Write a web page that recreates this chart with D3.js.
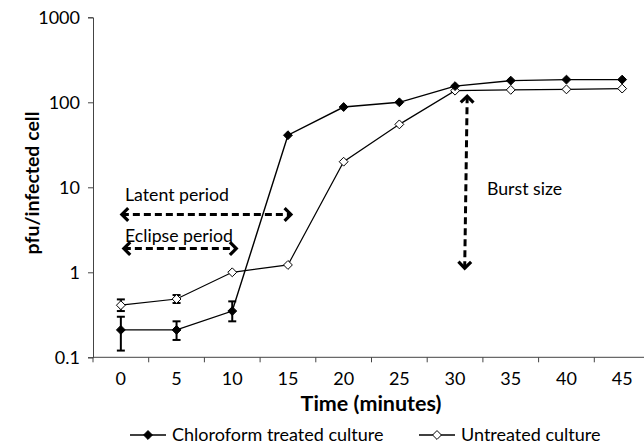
<!DOCTYPE html>
<html><head><meta charset="utf-8">
<script src="https://cdn.jsdelivr.net/npm/d3@7/dist/d3.min.js"></script>
<style>body{margin:0;background:#fff}svg{display:block}text{font-family:Lato,"Open Sans",sans-serif}</style>
</head><body>
<svg id="c" width="644" height="446"></svg>
<script>
const times = ["0","5","10","15","20","25","30","35","40","45"];
const chloroform = [0.21,0.21,0.35,41,88,100,155,180,185,185];
const chloroErrLo = [0.12,0.16,0.265,null,null,null,null,null,null,null];
const chloroErrHi = [0.30,0.265,0.455,null,null,null,null,null,null,null];
const untreated = [0.41,0.485,1.0,1.22,20,55,137,140,142,145];
const untreatedErrLo = [0.35,0.435,null,null,null,null,null,null,null,null];
const untreatedErrHi = [0.48,0.54,null,null,null,null,null,null,null,null];
const yTicks = [0.1,1,10,100,1000];
const seriesNames = ["Chloroform treated culture","Untreated culture"];

const svg = d3.select("#c");
const x = d3.scaleBand().domain(times).range([93,650]).paddingInner(0).paddingOuter(0);
const y = d3.scaleLog().domain([0.1,1000]).range([357.3,17.3]);
const cx = t => x(t)+x.bandwidth()/2;

// y axis
const yAx = svg.append("g").attr("transform","translate(93,0)")
  .call(d3.axisLeft(y).tickValues(yTicks).tickSize(5).tickFormat(d=>d3.format("~g")(d)));
yAx.select(".domain").attr("stroke","#444");
yAx.selectAll(".tick line").attr("stroke","#444");
yAx.selectAll("text").attr("font-size",18).attr("fill","#000").attr("x",-13);

// x axis
const xg = svg.append("g").attr("transform","translate(0,357.3)");
xg.append("line").attr("x1",93).attr("x2",644).attr("stroke","#444");
xg.selectAll("line.t").data(times).enter().append("line").attr("class","t")
  .attr("x1",d=>x(d)).attr("x2",d=>x(d)).attr("y1",0).attr("y2",5).attr("stroke","#444");
xg.selectAll("text").data(times).enter().append("text")
  .attr("x",d=>cx(d)).attr("y",28).attr("text-anchor","middle").attr("font-size",18).text(d=>d);

// axis titles
svg.append("text").attr("transform","translate(39,183) rotate(-90)").attr("text-anchor","middle")
  .attr("font-size",19.5).attr("font-weight","bold").text("pfu/infected cell");
svg.append("text").attr("x",371).attr("y",411).attr("text-anchor","middle")
  .attr("font-size",21.5).attr("font-weight","bold").text("Time (minutes)");

// annotations
function arrowHead(g, px, py, dir){
  const L=9, a=Math.PI/4;
  const p1=[px-L*Math.cos(dir-a), py-L*Math.sin(dir-a)];
  const p2=[px-L*Math.cos(dir+a), py-L*Math.sin(dir+a)];
  g.append("path").attr("d",`M${p1}L${px},${py}L${p2}`).attr("fill","none")
   .attr("stroke","#000").attr("stroke-width",3.2).attr("stroke-linejoin","miter");
}
function dblArrow(x1,y1,x2,y2){
  const g=svg.append("g");
  g.append("line").attr("x1",x1).attr("y1",y1).attr("x2",x2).attr("y2",y2)
   .attr("stroke","#000").attr("stroke-width",3).attr("stroke-dasharray","7,4");
  const ang=Math.atan2(y2-y1,x2-x1);
  arrowHead(g,x2,y2,ang);
  arrowHead(g,x1,y1,ang+Math.PI);
}
const latentY = 4.8, eclipseY = 1.9;
dblArrow(cx("0")+1, y(latentY), cx("15")+3, y(latentY));
dblArrow(cx("0")+3, y(eclipseY), cx("10")+4, y(eclipseY));
const bx = x("30")+x.bandwidth()*0.7;
dblArrow(bx+1, y(118), bx-1.5, y(1.12));
svg.append("text").attr("x",125).attr("y",y(latentY)-13).attr("font-size",17.7).text("Latent period");
svg.append("text").attr("x",125).attr("y",y(eclipseY)-7).attr("font-size",17.7).text("Eclipse period");
svg.append("text").attr("x",487).attr("y",195).attr("font-size",17.7).text("Burst size");

// error bars
function errBars(lo,hi){
  times.forEach((t,i)=>{
    if(lo[i]==null) return;
    const g=svg.append("g").attr("stroke","#000").attr("stroke-width",2);
    g.append("line").attr("x1",cx(t)).attr("x2",cx(t)).attr("y1",y(lo[i])).attr("y2",y(hi[i]));
    g.append("line").attr("x1",cx(t)-4).attr("x2",cx(t)+4).attr("y1",y(lo[i])).attr("y2",y(lo[i]));
    g.append("line").attr("x1",cx(t)-4).attr("x2",cx(t)+4).attr("y1",y(hi[i])).attr("y2",y(hi[i]));
  });
}
errBars(chloroErrLo,chloroErrHi);
errBars(untreatedErrLo,untreatedErrHi);

// lines
const line = d3.line().x((d,i)=>cx(times[i])).y(d=>y(d));
svg.append("path").datum(untreated).attr("d",line).attr("fill","none").attr("stroke","#000").attr("stroke-width",1.2);
svg.append("path").datum(chloroform).attr("d",line).attr("fill","none").attr("stroke","#000").attr("stroke-width",1.4);

const diamond = d3.symbol().type(d3.symbolDiamond2).size(50);
function markers(data, fill){
  svg.selectAll(null).data(data).enter().append("path")
    .attr("d",diamond).attr("transform",(d,i)=>`translate(${cx(times[i])},${y(d)})`)
    .attr("fill",fill).attr("stroke","#000").attr("stroke-width",1);
}
markers(untreated,"#fff");
markers(chloroform,"#000");

// legend
const leg=[{x:130,fill:"#000",name:seriesNames[0]},{x:419,fill:"#fff",name:seriesNames[1]}];
const ly=435;
leg.forEach(l=>{
  svg.append("line").attr("x1",l.x).attr("x2",l.x+36).attr("y1",ly).attr("y2",ly).attr("stroke","#000").attr("stroke-width",1.4);
  svg.append("path").attr("d",diamond).attr("transform",`translate(${l.x+18},${ly})`).attr("fill",l.fill).attr("stroke","#000");
  svg.append("text").attr("x",l.x+42).attr("y",ly+6).attr("font-size",18).text(l.name);
});
</script>
</body></html>
